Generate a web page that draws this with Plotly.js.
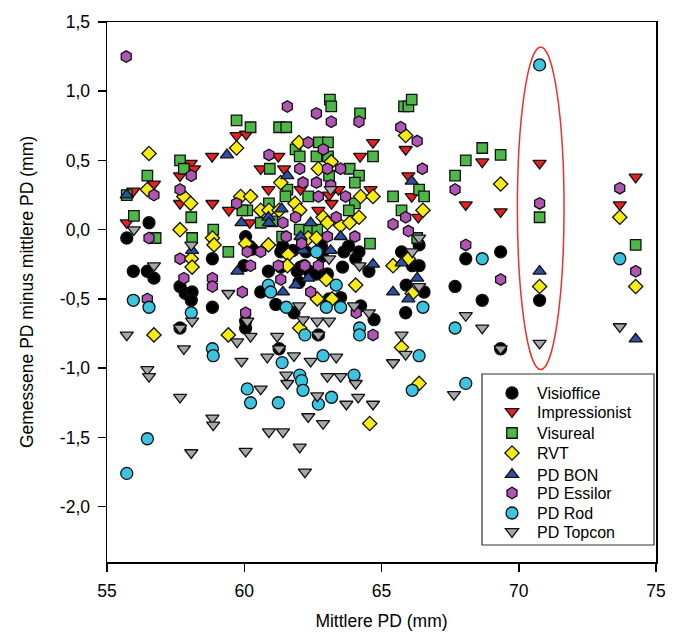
<!DOCTYPE html>
<html>
<head>
<meta charset="utf-8">
<script src="https://cdn.plot.ly/plotly-3.0.1.min.js"></script>
<style>html,body{margin:0;padding:0;background:#fff;}#chart{width:680px;height:633px;}</style>
</head>
<body>
<div id="chart"></div>
<script>
// ---- Data (x = Mittlere PD, y = Gemessene PD minus mittlere PD) ----
const seriesNames = ["Visioffice","Impressionist","Visureal","RVT","PD BON","PD Essilor","PD Rod","PD Topcon"];

const visiofficeX = [55.72,55.96,56.47,56.53,56.71,57.66,57.85,58.10,58.07,58.84,58.84,57.66,59.99,60.05,60.20,60.30,60.05,60.05,60.60,60.88,61.15,61.27,61.33,61.33,61.40,61.77,61.81,61.93,62.00,62.05,62.18,62.25,62.36,62.63,62.70,62.81,62.85,63.03,63.09,63.51,63.58,63.63,63.80,64.06,64.18,64.24,64.54,64.73,65.73,65.88,65.90,66.12,66.37,66.37,66.55,67.68,68.07,68.67,69.34,69.34,70.76];
const visiofficeY = [-0.06,-0.30,-0.30,0.05,-0.35,-0.41,-0.46,-0.45,-0.51,-0.21,-0.56,-0.71,-0.26,-0.05,-0.12,-0.14,-0.66,-0.71,-0.45,-0.30,-0.54,-0.86,-0.16,-0.27,-0.12,-0.15,-0.60,-0.30,-0.38,-0.27,-0.26,-0.16,-0.30,-0.32,-0.76,-0.12,-0.19,-0.32,-0.50,-0.49,-0.27,-0.16,-0.12,-0.21,-0.16,-0.55,-0.30,-0.65,-0.16,-0.60,-0.40,-0.26,-0.26,-0.11,-0.45,-0.41,-0.21,-0.51,-0.16,-0.86,-0.51];

const impressionistX = [55.96,55.72,56.71,57.66,57.66,58.05,58.17,58.83,58.84,59.44,59.72,60.07,60.20,60.60,60.88,61.24,61.45,62.05,62.70,63.18,63.43,63.09,64.22,64.69,64.60,65.88,65.98,66.10,66.34,68.07,68.67,69.34,70.76,73.68,74.26];
const impressionistY = [0.28,0.05,0.33,0.39,0.19,0.48,0.44,0.53,0.19,0.14,0.68,0.69,0.05,0.44,0.29,0.53,0.44,0.29,0.14,0.19,0.29,0.25,0.53,0.63,0.29,0.58,0.39,0.24,0.09,0.18,0.49,0.13,0.48,0.18,0.38];

const visurealX = [55.72,55.98,56.47,56.77,57.66,57.80,58.07,58.10,58.87,59.42,59.72,60.23,61.27,61.53,62.72,63.05,61.87,62.02,62.63,63.05,63.12,63.17,64.22,64.69,60.93,63.84,63.09,64.18,64.03,61.57,61.50,62.33,60.90,64.03,60.11,63.81,60.60,62.02,62.36,62.66,61.38,64.58,65.42,65.73,65.82,65.98,66.10,66.37,66.55,66.30,67.68,68.07,68.67,69.34,70.76,74.26,59.93,61.02];
const visurealY = [0.25,0.10,0.39,-0.06,0.50,0.44,0.09,-0.06,0.00,-0.16,0.79,0.74,0.74,0.74,0.63,0.63,0.58,0.53,0.53,0.53,0.94,0.89,0.84,0.53,0.44,0.44,0.39,0.39,0.34,0.29,0.24,0.24,0.19,0.19,0.14,0.14,0.05,0.00,0.00,0.00,-0.05,-0.10,0.24,0.14,0.89,0.89,0.94,0.29,0.24,-0.06,0.39,0.50,0.59,0.54,0.09,-0.11,0.14,0.06];

const rvtX = [56.53,56.47,57.80,58.05,57.66,58.84,58.90,58.07,58.10,56.71,59.42,59.72,61.99,63.17,62.70,61.33,59.87,60.23,64.24,64.69,61.85,60.60,60.90,61.27,62.02,62.87,64.18,63.03,63.51,63.84,62.33,62.63,60.05,60.88,61.60,61.57,62.99,64.06,62.66,63.20,62.02,64.57,65.88,66.51,65.98,65.42,66.12,65.73,66.37,69.34,70.76,73.68,74.26];
const rvtY = [0.55,0.29,0.24,0.19,0.00,-0.06,-0.11,-0.21,-0.27,-0.76,-0.76,0.59,0.63,0.49,0.44,0.34,0.24,0.24,0.24,0.24,0.19,0.14,0.14,0.14,0.14,0.09,0.09,0.05,0.03,0.05,-0.06,-0.06,-0.10,-0.11,-0.18,-0.26,-0.36,-0.40,-0.50,-0.50,-0.71,-1.40,0.68,0.14,-0.21,-0.26,-0.46,-0.85,-1.11,0.33,-0.41,0.09,-0.41];

const pdBonX = [55.72,58.10,59.37,59.75,61.57,61.36,60.88,59.90,60.90,62.42,62.05,63.51,62.14,63.15,64.69,61.87,61.41,62.33,66.10,65.73,66.30,65.42,65.98,70.76,74.26];
const pdBonY = [0.25,-0.15,0.54,-0.30,0.39,0.15,0.09,0.05,0.05,0.05,-0.05,-0.05,-0.15,-0.15,-0.25,-0.40,-0.45,-0.35,0.35,-0.24,-0.35,-0.45,-0.50,-0.30,-0.79];

const pdEssilorX = [55.70,56.71,57.66,58.07,59.72,56.53,57.66,57.80,58.84,58.84,56.47,61.57,62.63,63.17,64.18,62.33,62.88,60.90,62.02,63.03,63.51,62.14,62.63,63.15,62.70,63.69,63.35,61.87,61.41,61.53,63.03,64.03,62.09,60.11,60.60,60.23,61.24,62.21,62.70,61.33,59.93,62.42,60.05,64.08,64.69,65.70,66.30,66.49,65.88,65.42,65.98,67.68,68.07,69.34,70.76,73.68,74.26];
const pdEssilorY = [1.25,0.25,0.29,0.39,0.19,-0.06,-0.21,-0.35,-0.35,-0.41,-0.50,0.89,0.84,0.78,0.78,0.63,0.58,0.54,0.44,0.44,0.44,0.34,0.34,0.32,0.24,0.24,0.09,0.09,0.05,-0.05,-0.05,-0.05,-0.10,-0.16,-0.16,-0.26,-0.26,-0.26,-0.26,-0.36,-0.45,-0.45,-0.60,-0.60,-0.76,0.74,0.64,0.44,0.09,0.04,-0.01,0.29,-0.11,-0.36,0.19,0.30,-0.30];

const pdRodX = [55.96,56.53,58.07,58.84,58.87,56.47,55.72,62.63,63.35,60.88,60.96,61.53,62.21,62.99,63.51,64.20,64.20,61.38,62.87,62.02,62.09,62.14,64.00,60.11,60.23,61.24,62.70,63.18,66.51,66.37,66.12,68.07,67.68,68.67,70.76,73.68];
const pdRodY = [-0.51,-0.56,-0.60,-0.86,-0.91,-1.51,-1.76,-0.16,-0.40,-0.40,-0.45,-0.56,-0.76,-0.56,-0.56,-0.71,-0.76,-0.96,-0.91,-1.05,-1.09,-1.16,-1.05,-1.15,-1.25,-1.25,-1.26,-1.21,-0.56,-0.91,-1.16,-1.11,-0.71,-0.21,1.19,-0.21];

const pdTopconX = [55.98,58.07,56.71,59.42,58.10,57.66,55.72,57.80,56.47,56.53,57.66,58.84,58.87,58.07,63.15,63.09,64.20,62.00,62.14,62.66,63.09,62.70,64.00,64.54,60.11,60.23,59.74,61.20,61.27,60.84,61.81,62.42,63.35,59.90,61.53,61.57,63.03,63.51,64.06,60.60,62.66,64.15,63.72,64.69,62.33,62.87,60.90,61.41,62.02,60.05,62.21,66.37,66.12,66.37,65.73,65.88,65.42,67.64,68.07,68.67,69.34,70.76,73.68];
const pdTopconY = [0.00,-0.11,-0.26,-0.46,-0.66,-0.71,-0.76,-0.86,-1.01,-1.06,-1.21,-1.36,-1.41,-1.61,0.29,-0.21,-0.26,-0.55,-0.65,-0.66,-0.66,-0.76,-0.55,-0.60,-0.66,-0.77,-0.81,-0.77,-0.86,-0.92,-0.91,-0.95,-0.92,-0.95,-1.05,-1.11,-1.06,-1.06,-1.11,-1.15,-1.20,-1.21,-1.26,-1.26,-1.35,-1.40,-1.46,-1.46,-1.57,-1.60,-1.75,-0.06,-0.16,-0.41,-0.76,-0.90,-0.96,-1.19,-0.62,-0.71,-0.86,-0.82,-0.70];

const yTickVals = [-2.0,-1.5,-1.0,-0.5,0.0,0.5,1.0,1.5];
const yTickText = ["-2,0","-1,5","-1,0","-0,5","0,0","0,5","1,0","1,5"];
const xTickVals = [55,60,65,70,75];
const xTickText = ["55","60","65","70","75"];

// ---- Styling ----
const FONT = "Liberation Sans, Arial, Helvetica, sans-serif";
const styles = [
  {symbol:"circle", color:"#000000", size:12},
  {symbol:"triangle-down", color:"#e8201f", size:11.5},
  {symbol:"square", color:"#4db848", size:10.5},
  {symbol:"diamond", color:"#f7ec12", size:11},
  {symbol:"triangle-up", color:"#2c4fa2", size:11.5},
  {symbol:"hexagon", color:"#b055b3", size:11.5},
  {symbol:"circle", color:"#3cc3df", size:12},
  {symbol:"triangle-down", color:"#a4a7ac", size:11.5}
];
const xs = [visiofficeX, impressionistX, visurealX, rvtX, pdBonX, pdEssilorX, pdRodX, pdTopconX];
const ys = [visiofficeY, impressionistY, visurealY, rvtY, pdBonY, pdEssilorY, pdRodY, pdTopconY];

const traces = seriesNames.map((name, i) => ({
  type: "scatter", mode: "markers", name: name,
  x: xs[i], y: ys[i],
  marker: {symbol: styles[i].symbol, color: styles[i].color, size: styles[i].size,
           line: {color: "#111111", width: 1.3}},
  hoverinfo: "x+y+name"
}));

const L = 107, R = 24, T = 22, B = 71;
const W = 680, H = 633;
const pw = W - L - R, ph = H - T - B;
const px = v => (v - L) / pw;           // pixel -> paper x
const py = v => (H - B - v) / ph;       // pixel -> paper y

const LEG_FIRST_Y = 393, LEG_STEP = 20, LEG_TEXT_SHIFT = 5;

const layout = {
  width: W, height: H,
  margin: {l: L, r: R, t: T, b: B, pad: 0},
  paper_bgcolor: "#ffffff", plot_bgcolor: "#ffffff",
  font: {family: FONT, color: "#000000", size: 17},
  showlegend: true,
  legend: {
    x: px(492), y: py(376), xanchor: "left", yanchor: "top",
    bgcolor: "rgba(0,0,0,0)", borderwidth: 0,
    font: {family: FONT, size: 16, color: "#000"},
    tracegroupgap: 0
  },
  xaxis: {
    range: [55, 75], tickvals: xTickVals, ticktext: xTickText,
    ticks: "outside", ticklen: 8, tickwidth: 1.5, tickcolor: "#000",
    showline: true, linecolor: "#000", linewidth: 1.5, mirror: true,
    showgrid: false, zeroline: false, ticklabelstandoff: 4,
    tickfont: {family: FONT, size: 17.5},
    title: {text: "Mittlere PD (mm)", font: {family: FONT, size: 17.5}, standoff: 15}
  },
  yaxis: {
    range: [-2.4, 1.5], tickvals: yTickVals, ticktext: yTickText,
    ticks: "outside", ticklen: 8, tickwidth: 1.5, tickcolor: "#000",
    showline: true, linecolor: "#000", linewidth: 1.5, mirror: true,
    showgrid: false, zeroline: false, ticklabelstandoff: 4,
    tickfont: {family: FONT, size: 17.5},
    title: {text: "Gemessene PD minus mittlere PD (mm)", font: {family: FONT, size: 17.5}, standoff: 21}
  },
  shapes: [
    {type: "circle", xref: "x", yref: "y", x0: 69.95, x1: 71.65, y0: -1.01, y1: 1.32,
     line: {color: "#e8322a", width: 1.5}, fillcolor: "rgba(0,0,0,0)"},
    {type: "rect", xref: "paper", yref: "paper", x0: px(482), x1: px(654), y0: py(545), y1: py(374),
     line: {color: "#333333", width: 1.2}, fillcolor: "rgba(255,255,255,1)", layer: "below"}
  ]
};

Plotly.newPlot("chart", traces, layout, {displayModeBar: false, staticPlot: true}).then(gd => {
  // tighten legend entry spacing to match the reference (20 px per entry)
  const clip = gd.querySelector("g.legend .scrollbox");
  if (clip) clip.removeAttribute("clip-path");
  const items = gd.querySelectorAll("g.legend g.traces");
  items.forEach((g, i) => {
    const pt = g.querySelector(".legendpoints path");
    if (!pt) return;
    const r = pt.getBoundingClientRect();
    const cy = r.top + r.height / 2;
    const m = /translate\(\s*([-\d.]+)[ ,]+([-\d.]+)\s*\)/.exec(g.getAttribute("transform") || "");
    const tx = m ? parseFloat(m[1]) : 0, ty = m ? parseFloat(m[2]) : 0;
    const dy = (LEG_FIRST_Y + LEG_STEP * i) - cy;
    g.setAttribute("transform", "translate(" + tx + "," + (ty + dy) + ")");
    const t = g.querySelector("text.legendtext");
    if (t) t.setAttribute("x", parseFloat(t.getAttribute("x") || 0) + LEG_TEXT_SHIFT);
  });
});
</script>
</body>
</html>
